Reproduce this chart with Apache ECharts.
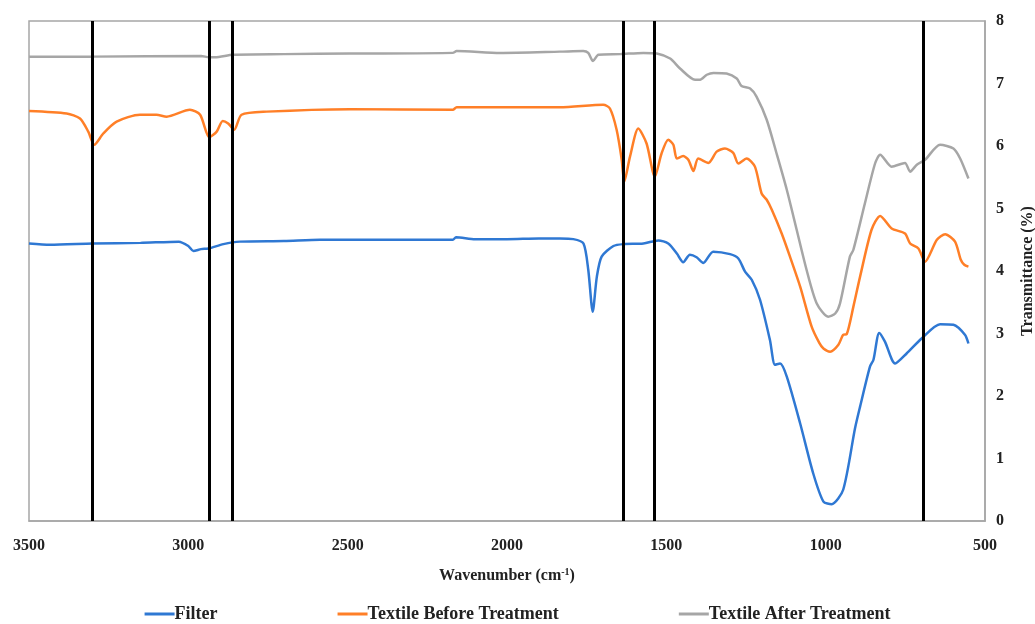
<!DOCTYPE html>
<html>
<head>
<meta charset="utf-8">
<script src="https://cdn.jsdelivr.net/npm/echarts@6/dist/echarts.min.js"></script>
<style>html,body{margin:0;padding:0;background:#fff;}#c{width:1035px;height:624px;}</style>
</head>
<body>
<div id="c"></div>
<script>
var seriesNames = ['Filter', 'Textile Before Treatment', 'Textile After Treatment'];
var xTicks = [3500, 3000, 2500, 2000, 1500, 1000, 500];
var yTicks = [0, 1, 2, 3, 4, 5, 6, 7, 8];
var markerWavenumbers = [3300, 2935, 2862, 1636, 1538, 695];

var filterData = [[3500,4.44],[3434,4.42],[3300,4.44],[3150,4.45],[3030,4.47],[3000,4.40],[2984,4.32],[2960,4.35],[2937,4.36],[2890,4.43],[2838,4.47],[2700,4.48],[2587,4.50],[2400,4.50],[2170,4.50],[2160,4.54],[2100,4.51],[2000,4.51],[1900,4.52],[1834,4.52],[1792,4.51],[1760,4.44],[1745,4.02],[1731,3.35],[1718,3.91],[1703,4.23],[1666,4.40],[1635,4.43],[1572,4.44],[1525,4.49],[1494,4.44],[1467,4.28],[1447,4.14],[1426,4.26],[1405,4.22],[1384,4.13],[1353,4.31],[1300,4.27],[1274,4.20],[1253,3.99],[1232,3.86],[1206,3.54],[1175,2.90],[1159,2.50],[1143,2.52],[1122,2.31],[1080,1.56],[1039,0.76],[1007,0.31],[981,0.27],[945,0.50],[908,1.48],[892,1.83],[861,2.47],[850,2.58],[832,3.01],[814,2.87],[782,2.52],[746,2.68],[699,2.92],[641,3.15],[599,3.14],[563,2.98],[552,2.84]];

var beforeData = [[3500,6.56],[3382,6.52],[3340,6.44],[3314,6.23],[3295,6.02],[3267,6.20],[3225,6.39],[3152,6.50],[3100,6.50],[3068,6.47],[2995,6.58],[2963,6.50],[2934,6.14],[2911,6.23],[2892,6.40],[2875,6.36],[2856,6.26],[2833,6.50],[2754,6.55],[2493,6.59],[2170,6.58],[2158,6.62],[2000,6.62],[1834,6.62],[1698,6.66],[1677,6.60],[1656,6.26],[1640,5.78],[1632,5.43],[1614,5.83],[1588,6.28],[1562,6.04],[1536,5.51],[1515,5.88],[1494,6.10],[1478,6.02],[1467,5.80],[1447,5.84],[1431,5.78],[1415,5.60],[1400,5.80],[1368,5.73],[1342,5.91],[1316,5.96],[1290,5.89],[1274,5.72],[1248,5.80],[1222,5.67],[1201,5.24],[1185,5.14],[1169,4.98],[1138,4.60],[1112,4.23],[1080,3.75],[1044,3.11],[1020,2.85],[1007,2.76],[986,2.71],[960,2.82],[945,2.98],[934,2.99],[913,3.43],[892,3.91],[856,4.66],[829,4.88],[793,4.68],[751,4.60],[735,4.44],[709,4.36],[688,4.15],[651,4.50],[625,4.59],[594,4.47],[576,4.18],[565,4.10],[552,4.07]];

var afterData = [[3500,7.43],[3300,7.43],[2960,7.44],[2935,7.42],[2916,7.42],[2860,7.46],[2700,7.47],[2493,7.48],[2170,7.49],[2158,7.52],[2022,7.49],[1834,7.51],[1761,7.52],[1745,7.49],[1730,7.36],[1713,7.46],[1645,7.47],[1572,7.49],[1530,7.48],[1488,7.40],[1457,7.24],[1410,7.06],[1394,7.06],[1373,7.14],[1352,7.17],[1311,7.16],[1279,7.08],[1264,6.96],[1237,6.92],[1217,6.79],[1185,6.42],[1154,5.88],[1122,5.30],[1091,4.66],[1060,4.02],[1028,3.48],[992,3.27],[970,3.32],[955,3.48],[924,4.23],[913,4.34],[877,5.08],[845,5.72],[829,5.86],[793,5.67],[751,5.73],[735,5.59],[714,5.70],[688,5.78],[641,6.02],[599,5.96],[578,5.80],[552,5.48]];

var colors = ['#2F78D3', '#FF7F27', '#A6A6A6'];
var font = 'Liberation Serif';

var chart = echarts.init(document.getElementById('c'));
function mkSeries(name, data, color) {
  return {
    name: name, type: 'line', data: data, showSymbol: false, symbol: 'none',
    smooth: 0.25, lineStyle: { color: color, width: 2.5 }, itemStyle: { color: color },
    z: 2, animation: false
  };
}
var option = {
  animation: false,
  color: colors,
  grid: { left: 29, right: 50, top: 21, bottom: 103, show: true, borderColor: '#A6A6A6', borderWidth: 1.5,
    outerBoundsMode: 'none', containLabel: false },
  xAxis: {
    type: 'value', inverse: true, min: 500, max: 3500, interval: 500,
    axisLine: { show: true, lineStyle: { color: '#A6A6A6', width: 1.5 } },
    axisTick: { show: false }, splitLine: { show: false },
    axisLabel: { margin: 17, fontFamily: font, fontWeight: 'bold', fontSize: 16, color: '#222',
      formatter: function (v) { return xTicks.indexOf(v) >= 0 ? String(v) : ''; } },
    name: 'Wavenumber (cm{sup|-1})', nameLocation: 'middle', nameGap: 46,
    nameTextStyle: { fontFamily: font, fontWeight: 'bold', fontSize: 16, color: '#222',
      rich: { sup: { fontFamily: font, fontWeight: 'bold', fontSize: 10, verticalAlign: 'top', padding: [0, 0, 8, 0], color: '#222' } } }
  },
  yAxis: {
    type: 'value', position: 'right', min: 0, max: 8, interval: 1,
    axisLine: { show: true, lineStyle: { color: '#A6A6A6', width: 1.5 } },
    axisTick: { show: false }, splitLine: { show: false },
    axisLabel: { margin: 11, fontFamily: font, fontWeight: 'bold', fontSize: 16, color: '#222',
      formatter: function (v) { return yTicks.indexOf(v) >= 0 ? String(v) : ''; } },
    name: 'Transmittance (%)', nameLocation: 'middle', nameRotate: 90, nameGap: 35,
    nameTextStyle: { fontFamily: font, fontWeight: 'bold', fontSize: 16, color: '#222' }
  },
  legend: {
    data: seriesNames, top: 600, left: 'center', icon: 'rect', itemWidth: 30, itemHeight: 3,
    itemGap: 120,
    textStyle: { fontFamily: font, fontWeight: 'bold', fontSize: 18, color: '#222', padding: [0, 0, 0, -5] }
  },
  series: [
    mkSeries(seriesNames[0], filterData, colors[0]),
    mkSeries(seriesNames[1], beforeData, colors[1]),
    mkSeries(seriesNames[2], afterData, colors[2]),
    {
      name: 'markers', type: 'line', data: [], z: 5, silent: true,
      markLine: {
        silent: true, symbol: ['none', 'none'], animation: false,
        label: { show: false },
        lineStyle: { color: '#000', width: 3, type: 'solid' },
        emphasis: { disabled: true },
        data: markerWavenumbers.map(function (w) { return { xAxis: w }; })
      }
    }
  ]
};
chart.setOption(option);
</script>
</body>
</html>
